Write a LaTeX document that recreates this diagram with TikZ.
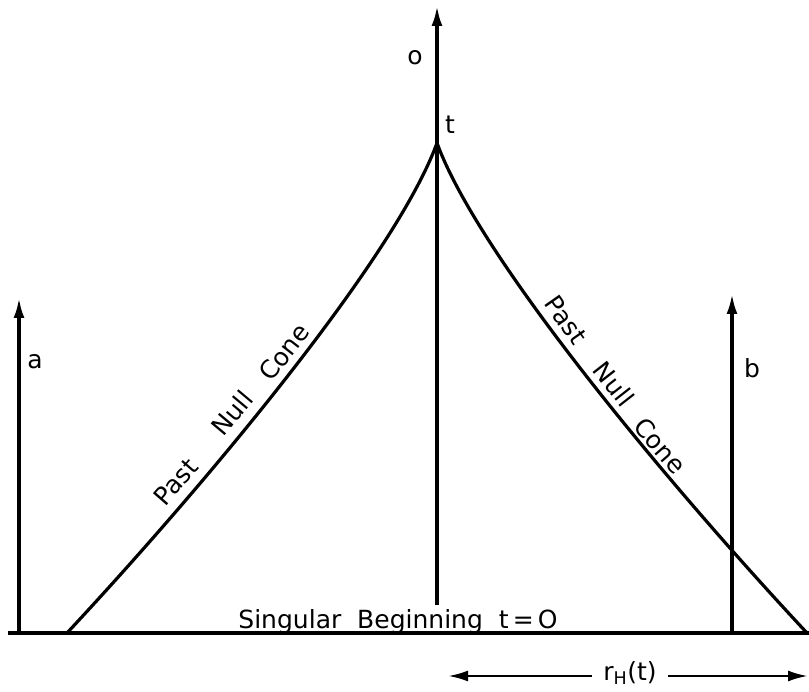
\documentclass[tikz,border=0pt]{standalone}
\usepackage{fontspec}
\setmainfont{DejaVu Sans}
\usetikzlibrary{arrows.meta}
\begin{document}
\begin{tikzpicture}[x=1pt,y=-1pt,line width=3.2pt,
  lab/.style={font=\fontsize{25}{28}\selectfont,inner sep=0pt},
  arr/.style={-{Latex[length=20pt,width=11pt]}}]
\useasboundingbox (0,0) rectangle (809,692);
% key points
\coordinate (bl) at (8,633);
\coordinate (br) at (809,633);
\coordinate (apex) at (437,143);
\coordinate (lfoot) at (67,633);
\coordinate (rfoot) at (807,633);
\coordinate (cbase) at (437,605);
\coordinate (ctip) at (437,6);
\coordinate (abase) at (19,633);
\coordinate (atip) at (19,298);
\coordinate (bbase) at (732,633);
\coordinate (btip) at (732,294);
% baseline
\draw (bl) -- (br);
% past null cone
\draw (apex) .. controls (397,253) and (217,472) .. (lfoot);
\draw (apex) .. controls (477,253) and (657,472) .. (rfoot);
% world lines
\draw[arr] (cbase) -- (ctip);
\draw[arr] (abase) -- (atip);
\draw[arr] (bbase) -- (btip);
% labels
\node[lab] (lo) at (415,58) {o};
\node[lab] (lt) at (450,125) {t};
\node[lab] (la) at (35,362) {a};
\node[lab] (lb) at (752,368) {b};
\node[lab,anchor=base] (sing) at (398,628) {Singular\ \ Beginning\ \ t\,=\,O};
\node[lab,rotate=49] (lp1) at (176,482) {Past};
\node[lab,rotate=50] (ln1) at (232,413) {Null};
\node[lab,rotate=52] (lc1) at (284,352) {Cone};
\node[lab,rotate=-55] (lp2) at (566,320) {Past};
\node[lab,rotate=-52] (ln2) at (614,384) {Null};
\node[lab,rotate=-49] (lc2) at (660,446) {Cone};
\node[lab] (rh) at (630,673) {r$_{\mathrm{H}}$(t)};
\coordinate (rhl) at (448,676);
\coordinate (rhr) at (808,676);
\draw[arr,line width=2.6pt] (rh.west) ++(-10,3) coordinate (rhls) -- (rhl);
\draw[arr,line width=2.6pt] (rh.east) ++(10,3) coordinate (rhrs) -- (rhr);
\end{tikzpicture}
\end{document}
